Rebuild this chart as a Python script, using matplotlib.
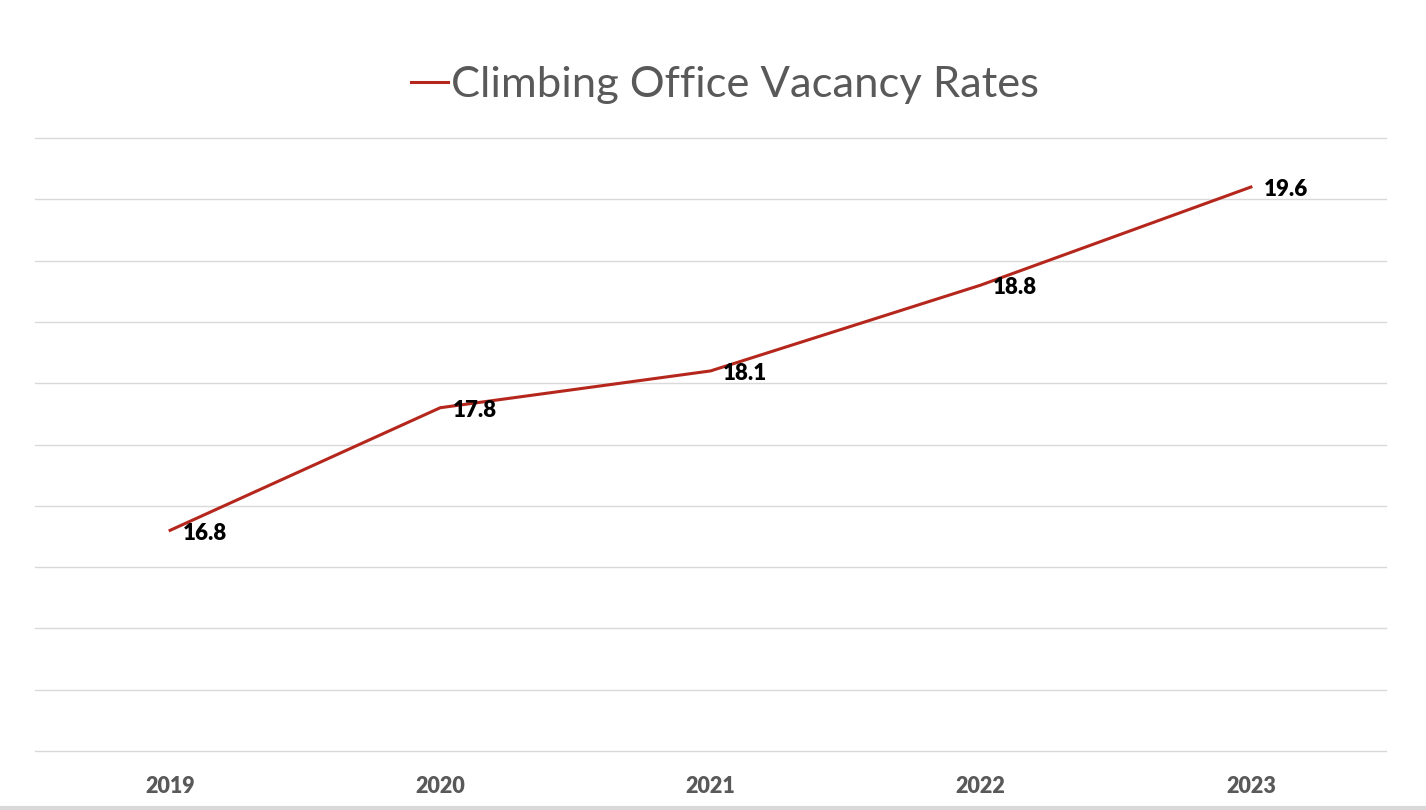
import matplotlib
matplotlib.use('Agg')
import matplotlib.pyplot as plt

years = ['2019', '2020', '2021', '2022', '2023']
vacancy = [16.8, 17.8, 18.1, 18.8, 19.6]
series_name = 'Climbing Office Vacancy Rates'

plt.rcParams['font.family'] = ['Lato', 'DejaVu Sans']

fig = plt.figure(figsize=(14.26, 8.10), dpi=100)
ax = fig.add_axes([35 / 1426, 1 - 751 / 810, (1386 - 35) / 1426, (751 - 138) / 810])

x = list(range(len(years)))
line, = ax.plot(x, vacancy, color='#b5271d', linewidth=2.2, label=series_name)

for xi, v in zip(x, vacancy):
    ax.annotate(f'{v}', (xi, v), xytext=(9, -2), textcoords='offset points',
                ha='left', va='center', fontsize=16, fontweight='heavy', color='black')

ax.set_xlim(-0.5, len(years) - 0.5)
ax.set_ylim(15, 20)
ax.set_yticks([15 + 0.5 * i for i in range(11)])
ax.set_yticklabels([])
ax.set_xticks(x)
ax.set_xticklabels(years, fontsize=15.5, fontweight='heavy', color='#595959')
ax.tick_params(axis='both', length=0)
ax.tick_params(axis='x', pad=18)
ax.grid(axis='y', color='#d9d9d9', linewidth=1)
for gl in ax.get_ygridlines():
    gl.set_clip_on(False)
ax.set_axisbelow(True)
for s in ax.spines.values():
    s.set_visible(False)

leg = fig.legend(handles=[line], loc='center', bbox_to_anchor=(725 / 1426, 1 - 85 / 810),
                 frameon=False, fontsize=31.3, handlelength=0.85, handletextpad=0.05)
for t in leg.get_texts():
    t.set_color('#595959')

# thin grey strip along the bottom edge
fig.add_artist(plt.Line2D([0, 1], [2 / 810, 2 / 810], color='#d9d9d9', linewidth=3,
                          transform=fig.transFigure))

fig.savefig('out.png', dpi=100)
